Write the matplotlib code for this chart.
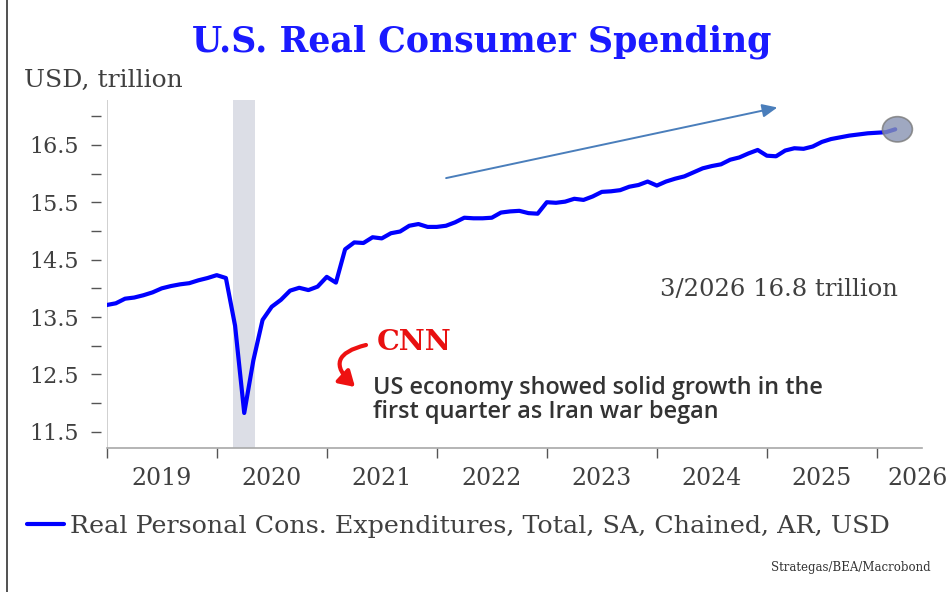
import numpy as np
import pandas as pd
import matplotlib.pyplot as plt
from matplotlib.patches import FancyArrowPatch, Ellipse
from matplotlib.lines import Line2D

# monthly real PCE, USD trillion, Jan 2019 - Mar 2026
months = pd.date_range("2019-01-01", "2026-03-01", freq="MS")
pce = [
    13.71, 13.74, 13.82, 13.84, 13.88, 13.93, 14.00, 14.04, 14.07, 14.09, 14.14, 14.18,
    14.23, 14.18, 13.35, 11.83, 12.75, 13.45, 13.68, 13.80, 13.96, 14.01, 13.97, 14.03,
    14.20, 14.10, 14.68, 14.80, 14.79, 14.89, 14.87, 14.96, 14.99, 15.09, 15.12, 15.07,
    15.07, 15.09, 15.15, 15.23, 15.22, 15.22, 15.23, 15.32, 15.34, 15.35, 15.31, 15.30,
    15.50, 15.49, 15.51, 15.56, 15.54, 15.60, 15.68, 15.69, 15.71, 15.77, 15.80, 15.86,
    15.79, 15.86, 15.91, 15.95, 16.02, 16.09, 16.13, 16.16, 16.24, 16.28, 16.35, 16.41,
    16.31, 16.30, 16.40, 16.44, 16.43, 16.47, 16.55, 16.60, 16.63, 16.66, 16.68, 16.70,
    16.71, 16.72, 16.77,
]
years = [2019, 2020, 2021, 2022, 2023, 2024, 2025, 2026]
yticks_major = [11.5, 12.5, 13.5, 14.5, 15.5, 16.5]
yticks_minor = [12.0, 13.0, 14.0, 15.0, 16.0, 17.0]
recession = (2020.15, 2020.35)

x = months.year + (months.month - 1) / 12.0

W, H = 950, 592
serif = "DejaVu Serif"
gray_txt = "#404040"

def fx(px):
    return px / W

def fy(py):
    return 1 - py / H

fig = plt.figure(figsize=(9.5, 5.92), dpi=100)
ax = fig.add_axes([fx(106.7), fy(448), (922 - 106.7) / W, 348 / H])

ax.axvspan(*recession, color="#dcdee6", lw=0, zorder=0)
ax.plot(x, pce, color="#0000ff", lw=3.0, solid_capstyle="round", zorder=3,
        label="Real Personal Cons. Expenditures, Total, SA, Chained, AR, USD")
# end-point highlight (about 30 x 25 px)
ax.add_patch(Ellipse((x[-1] + 0.02, pce[-1]), 0.272, 0.44, facecolor="#8793b2",
                     edgecolor="#7a7a7a", lw=1.2, alpha=0.8, zorder=4))

ax.set_xlim(2019.0, 2026.41)
ax.set_ylim(11.22, 17.28)

# axes styling
for s in ["top", "right"]:
    ax.spines[s].set_visible(False)
ax.spines["left"].set_position(("outward", 4))
ax.spines["left"].set_visible(False)
ax.axvline(2019.0, color="#c8c8c8", lw=1.2, zorder=1)
ax.spines["bottom"].set_color("#a8a8a8")
ax.spines["bottom"].set_linewidth(1.2)

ax.set_yticks(yticks_major + yticks_minor)
ax.set_yticklabels([f"{v:.1f}" for v in yticks_major] + [""] * len(yticks_minor))
ax.tick_params(axis="y", length=7, width=1.0, color="#555555", pad=9,
               labelsize=16, labelcolor=gray_txt)
ax.set_xticks(years)
ax.set_xticklabels([])
ax.tick_params(axis="x", length=7, width=1.0, color="#555555")
for lab in ax.get_yticklabels():
    lab.set_family(serif)

for yr in years:
    xpos = yr + 0.5 if yr < 2026 else 2026.37
    ax.text(xpos, -0.087, str(yr), transform=ax.get_xaxis_transform(),
            ha="center", va="center", fontsize=17, family=serif, color=gray_txt,
            clip_on=False)

# trend arrow
ax.annotate("", xy=(2025.12, 17.16), xytext=(2022.06, 15.91),
            arrowprops=dict(arrowstyle="-|>,head_length=0.9,head_width=0.4",
                            color="#4a7ebb", lw=1.4))

# titles and texts
fig.text(fx(482), fy(42), "U.S. Real Consumer Spending", ha="center", va="center",
         fontsize=25, fontweight="bold", family=serif, color="#1a1aff")
fig.text(fx(24), fy(80), "USD, trillion", ha="left", va="center",
         fontsize=18, family=serif, color=gray_txt)
fig.text(fx(898), fy(290), "3/2026 16.8 trillion", ha="right", va="center",
         fontsize=17.5, family=serif, color=gray_txt)
fig.text(fx(377), fy(342), "CNN", ha="left", va="center",
         fontsize=20.5, fontweight="bold", family=serif, color="#e81010")
fig.text(fx(373), fy(400), "US economy showed solid growth in the\nfirst quarter as Iran war began",
         ha="left", va="center", fontsize=16.9, fontweight="semibold",
         family="Open Sans", color="#333333", linespacing=1.05)
fig.text(fx(931), fy(567), "Strategas/BEA/Macrobond", ha="right", va="center",
         fontsize=8.5, family=serif, color="#333333")

# curved red pointer next to CNN
arr = FancyArrowPatch((fx(366), fy(345)), (fx(355), fy(387)), transform=fig.transFigure,
                      connectionstyle="arc3,rad=0.93",
                      arrowstyle="-|>,head_length=9,head_width=5.5",
                      color="#ee1111", lw=3, shrinkA=0, shrinkB=0)
fig.patches.append(arr)

fig.legend(handles=ax.get_lines()[:1], loc="center left",
           bbox_to_anchor=(fx(27), fy(526)), frameon=False,
           handlelength=1.45, handletextpad=0.24, borderaxespad=0, borderpad=0,
           prop=dict(family=serif, size=18.3), labelcolor=gray_txt)

# slide border at left edge
fig.add_artist(Line2D([fx(7), fx(7)], [0, 1], transform=fig.transFigure,
                      color="#333333", lw=1.2))

fig.savefig("out.png", dpi=100)
